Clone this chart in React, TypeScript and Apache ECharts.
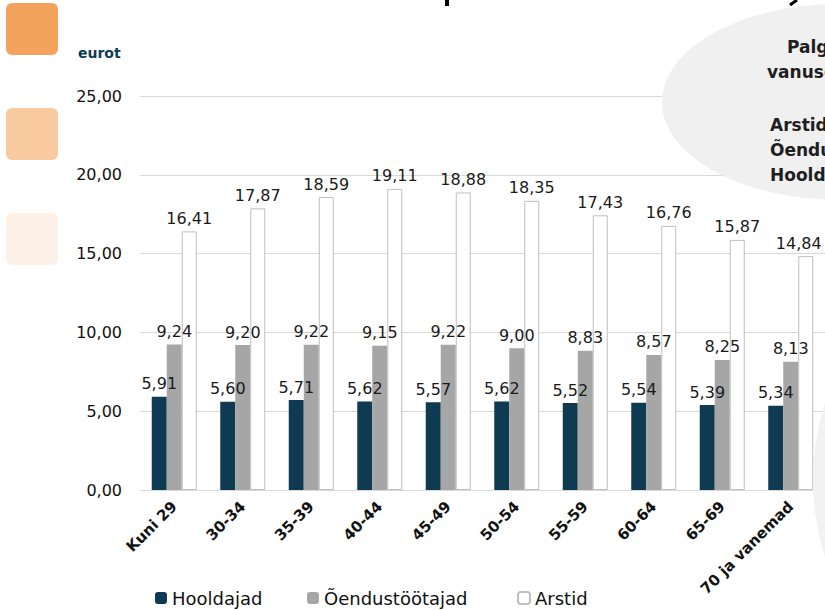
import React, { useEffect, useRef } from "react";
import * as echarts from "echarts";

const categories = ["Kuni 29", "30-34", "35-39", "40-44", "45-49", "50-54", "55-59", "60-64", "65-69", "70 ja vanemad"];
const hooldajad = [5.91, 5.6, 5.71, 5.62, 5.57, 5.62, 5.52, 5.54, 5.39, 5.34];
const oendustootajad = [9.24, 9.2, 9.22, 9.15, 9.22, 9.0, 8.83, 8.57, 8.25, 8.13];
const arstid = [16.41, 17.87, 18.59, 19.11, 18.88, 18.35, 17.43, 16.76, 15.87, 14.84];
const seriesNames = ["Hooldajad", "Õendustöötajad", "Arstid"];
const yTicks = [0, 5, 10, 15, 20, 25];
const unitLabel = "eurot";
const bubbleLines = ["Palgad", "vanuserühmades", "", "Arstid", "Õendustöötajad", "Hooldajad"];

const FONT = "DejaVu Sans";
const fmt = (v: number) => v.toFixed(2).replace(".", ",");

export default function App() {
  const ref = useRef<HTMLDivElement>(null);
  useEffect(() => {
    if (!ref.current) return;
    const chart = echarts.init(ref.current, undefined, { renderer: "svg" });
    const mkLabel = () => ({
      show: true,
      position: "top" as const,
      distance: 5,
      fontFamily: FONT,
      fontSize: 16,
      color: "#1a1a1a",
      formatter: (p: any) => fmt(p.value),
    });
    const lineY = [47, 72, 98, 125, 150, 175];
    const legendBase = {
      top: 589,
      padding: 0,
      itemWidth: 12,
      itemHeight: 12,
      textStyle: { fontFamily: FONT, fontSize: 18, color: "#111" },
      selectedMode: false,
    };
    const arstidData = arstid.map((v, i) =>
      i === arstid.length - 1 ? { value: v, label: { offset: [-7, 0] } } : v
    );
    chart.setOption({
      animation: false,
      backgroundColor: "#ffffff",
      grid: { left: 140, top: 96, width: 687, height: 394, containLabel: false },
      legend: [
        { ...legendBase, left: 155, data: [seriesNames[0]] },
        { ...legendBase, left: 307, data: [seriesNames[1]] },
        { ...legendBase, left: 517, data: [seriesNames[2]] },
      ],
      xAxis: {
        type: "category",
        data: categories,
        axisLine: { show: true, lineStyle: { color: "#d9d9d9", width: 1 } },
        axisTick: { show: false },
        axisLabel: {
          rotate: 45,
          interval: 0,
          margin: 14,
          fontFamily: FONT,
          fontSize: 15,
          fontWeight: "bold",
          color: "#111",
        },
      },
      yAxis: {
        type: "value",
        min: yTicks[0],
        max: yTicks[yTicks.length - 1],
        interval: 5,
        axisLine: { show: false },
        axisTick: { show: false },
        splitLine: { lineStyle: { color: "#d9d9d9", width: 1 } },
        axisLabel: {
          margin: 18,
          fontFamily: FONT,
          fontSize: 16,
          color: "#111",
          formatter: (v: number) => fmt(v),
        },
      },
      series: [
        {
          name: seriesNames[0],
          type: "bar",
          data: hooldajad,
          barWidth: 15,
          barGap: "0%",
          itemStyle: { color: "#0e3a52" },
          label: mkLabel(),
        },
        {
          name: seriesNames[1],
          type: "bar",
          data: oendustootajad,
          barWidth: 15,
          barGap: "0%",
          itemStyle: { color: "#a6a6a6" },
          label: mkLabel(),
        },
        {
          name: seriesNames[2],
          type: "bar",
          data: arstidData,
          barWidth: 15,
          barGap: "0%",
          itemStyle: { color: "#ffffff", borderColor: "#bfbfbf", borderWidth: 1 },
          label: mkLabel(),
        },
      ],
      graphic: [
        { type: "rect", shape: { x: 6, y: 3, width: 52, height: 52, r: 6 }, style: { fill: "#f4a35c" }, z: 100 },
        { type: "rect", shape: { x: 6, y: 108, width: 52, height: 52, r: 6 }, style: { fill: "#f9caa0" }, z: 100 },
        { type: "rect", shape: { x: 6, y: 213, width: 52, height: 52, r: 6 }, style: { fill: "#fef1e7" }, z: 100 },
        {
          type: "text",
          x: 78,
          y: 53,
          style: { text: unitLabel, font: `bold 14px "${FONT}"`, fill: "#0e3a52", verticalAlign: "middle" },
          z: 100,
        },
        { type: "rect", shape: { x: 445, y: 0, width: 4, height: 6 }, style: { fill: "#000" }, z: 100 },
        { type: "line", shape: { x1: 797, y1: 0, x2: 790, y2: 5 }, style: { stroke: "#000", lineWidth: 3 }, z: 100 },
        { type: "ellipse", shape: { cx: 840, cy: 102, rx: 178, ry: 98 }, style: { fill: "#f0f0f0" }, z: 100 },
        { type: "circle", shape: { cx: 1066, cy: 480, r: 253 }, style: { fill: "#f2f2f2" }, z: 100 },
        ...bubbleLines.map((t, i) => ({
          type: "text",
          x: i === 0 ? 787 : i === 1 ? 767 : 770,
          y: lineY[i],
          style: { text: t, font: `bold 17px "${FONT}"`, fill: "#1f1f1f", verticalAlign: "middle" },
          z: 101,
        })),
      ],
    });
    return () => chart.dispose();
  }, []);
  return (
    <div
      ref={ref}
      style={{ position: "fixed", left: 0, top: 0, width: 825, height: 610, background: "#fff" }}
    />
  );
}
